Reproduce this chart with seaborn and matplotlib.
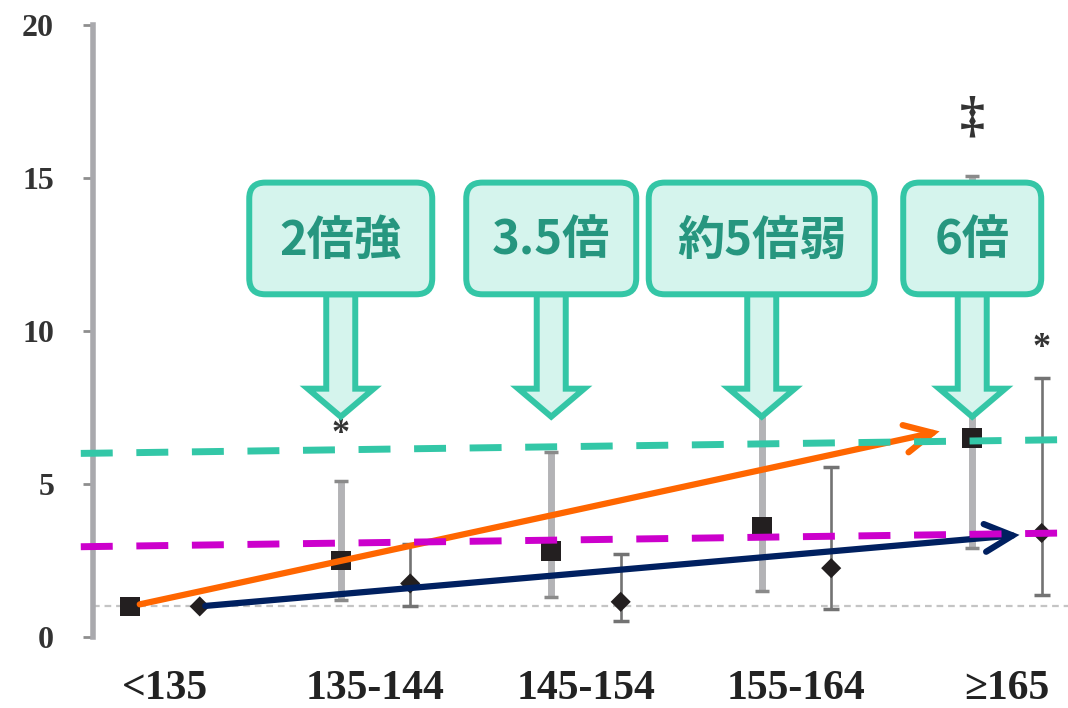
import numpy as np
import pandas as pd
import matplotlib
matplotlib.use("Agg")
import matplotlib.pyplot as plt
import seaborn as sns
from matplotlib.patches import FancyBboxPatch, Polygon

# ==============================================
# Data
# ==============================================
categories = ["<135", "135-144", "145-154", "155-164", "≥165"]

# series 1 (squares): value, lower and upper end of the bar
sq_val = [1.0, 2.5, 2.8, 3.6, 6.5]
sq_lo = [1.0, 1.2, 1.3, 1.5, 2.9]
sq_hi = [1.0, 5.1, 6.05, 7.6, 15.05]

# series 2 (diamonds)
dm_val = [1.0, 1.75, 1.15, 2.25, 3.4]
dm_lo = [1.0, 1.0, 0.52, 0.92, 1.38]
dm_hi = [1.0, 3.05, 2.7, 5.55, 8.45]

# significance marks over the bars
sq_sig = ["", "*", "", "", "‡"]
sq_sig_y = [0, 6.62, 0, 0, 16.95]
dm_sig = ["", "", "", "", "*"]
dm_sig_y = [0, 0, 0, 0, 9.42]

# dashed guide lines (left end, right end)
teal_ref = [6.0, 6.45]
magenta_ref = [2.95, 3.4]

# trend arrows: orange ends just left of the last square
orange_end = [3.68, 6.72]

# callouts (text, category they point at)
callout_text = ["2倍強", "3.5倍", "約5倍弱", "6倍"]
callout_cat = [1, 2, 3, 4]
callout_width = [183, 170, 226, 138]   # px

# ==============================================
# Figure setup
# ==============================================
sns.set_theme(style="white")
plt.rcParams["font.family"] = ["Liberation Serif", "DejaVu Serif"]

W, H = 1068, 708
fig = plt.figure(figsize=(W / 100, H / 100), dpi=100)
ax = fig.add_axes([93 / W, 71 / H, (W - 93) / W, 612 / H])

off = 0.165
xs = np.arange(len(categories))
x_sq = xs - off
x_dm = xs + off

df_sq = pd.DataFrame({"x": x_sq, "y": sq_val})
df_dm = pd.DataFrame({"x": x_dm, "y": dm_val})

# reference line at 1
ax.axhline(1, color="#c4c4c4", lw=1.6, dashes=(3, 2.2), zorder=1)

# error bars
for i in range(len(categories)):
    if sq_hi[i] > sq_lo[i]:
        eb = ax.errorbar(x_sq[i], sq_val[i],
                         yerr=[[sq_val[i] - sq_lo[i]], [sq_hi[i] - sq_val[i]]],
                         fmt="none", ecolor="#b3b3b6", elinewidth=5,
                         capsize=5, capthick=2.5, zorder=2)
        for c in eb[1]:
            c.set_markeredgecolor("#8a8a8a")
    if dm_hi[i] > dm_lo[i]:
        ax.errorbar(x_dm[i], dm_val[i],
                    yerr=[[dm_val[i] - dm_lo[i]], [dm_hi[i] - dm_val[i]]],
                    fmt="none", ecolor="#737373", elinewidth=1.9,
                    capsize=6, capthick=2.5, zorder=2)

# markers
sns.scatterplot(data=df_sq, x="x", y="y", marker="s", s=200, color="#231f20",
                edgecolor="none", ax=ax, zorder=3, legend=False)
sns.scatterplot(data=df_dm, x="x", y="y", marker="D", s=105, color="#231f20",
                edgecolor="none", ax=ax, zorder=3, legend=False)

# significance marks
for i in range(len(categories)):
    if sq_sig[i]:
        ax.text(x_sq[i], sq_sig_y[i], sq_sig[i], ha="center", va="center",
                fontsize=36 if sq_sig[i] == "‡" else 26, fontweight="bold",
                color="#333333", zorder=4)
    if dm_sig[i]:
        ax.text(x_dm[i], dm_sig_y[i], dm_sig[i], ha="center", va="center",
                fontsize=26, fontweight="bold", color="#333333", zorder=4)

ax.set_xlim(-0.342, 4.29)
ax.set_ylim(0, 20)

# trend arrows
arrow_style = "->,head_length=1.0,head_width=0.5"
ax.annotate("", xy=orange_end, xytext=(x_sq[0], sq_val[0]),
            arrowprops=dict(arrowstyle=arrow_style, color="#ff6600", lw=4.5,
                            mutation_scale=20, shrinkA=7, shrinkB=0,
                            capstyle="round", joinstyle="miter"), zorder=5)
ax.annotate("", xy=(x_dm[4], dm_val[4]), xytext=(x_dm[0], dm_val[0]),
            arrowprops=dict(arrowstyle=arrow_style, color="#002060", lw=4.5,
                            mutation_scale=20, shrinkA=4, shrinkB=16,
                            capstyle="round", joinstyle="miter"), zorder=5)

# dashed guide lines on top
x_ends = [-0.40, 4.29]
ax.plot(x_ends, teal_ref, color="#33c7a7", lw=5, dashes=(4.6, 3.4),
        clip_on=False, zorder=6)
ax.plot(x_ends, magenta_ref, color="#cc00cc", lw=5, dashes=(4.6, 3.4),
        clip_on=False, zorder=6)

# axes styling
for s in ["top", "right", "bottom"]:
    ax.spines[s].set_visible(False)
ax.spines["left"].set_color("#a9a9ad")
ax.spines["left"].set_linewidth(4)
ax.spines["left"].set_bounds(0, 20)
ax.set_yticks([0, 5, 10, 15, 20])
ax.set_xticks(xs, categories)
ax.tick_params(axis="y", length=7, width=2, color="#8e8e8e", pad=21,
               labelsize=23, labelcolor="#333333", left=True)
ax.tick_params(axis="x", length=0, pad=24, labelsize=30, labelcolor="#222222")
for lbl in ax.get_yticklabels() + ax.get_xticklabels():
    lbl.set_fontweight("bold")
ax.set_xlabel("")
ax.set_ylabel("")
ax.grid(False)

# ==============================================
# Callouts in pixel space
# ==============================================
ov = fig.add_axes([0, 0, 1, 1], zorder=10)
ov.set_xlim(0, W)
ov.set_ylim(H, 0)
ov.set_axis_off()


def to_px(x, y):
    dx, dy = ax.transData.transform((x, y))
    return dx, H - dy


edge = "#34c6a6"
fill = "#d5f4ed"
for txt, cat, bw in zip(callout_text, callout_cat, callout_width):
    cx, tip = to_px(x_sq[cat], 7.2)
    _, top = to_px(x_sq[cat], 14.85)
    _, bot = to_px(x_sq[cat], 11.2)
    hb = tip - 28
    pts = [(cx - 14.5, bot), (cx - 14.5, hb), (cx - 33, hb), (cx, tip),
           (cx + 33, hb), (cx + 14.5, hb), (cx + 14.5, bot)]
    ov.add_patch(Polygon(pts, closed=True, facecolor=fill, edgecolor=edge,
                         lw=4.3, joinstyle="miter", zorder=1))
    ov.add_patch(FancyBboxPatch((cx - bw / 2, top), bw, bot - top,
                                boxstyle="round,pad=0,rounding_size=16",
                                facecolor=fill, edgecolor=edge, lw=4.3, zorder=2))
    ov.text(cx, (top + bot) / 2 + 2, txt, ha="center", va="center",
            fontsize=34, fontweight="bold", color="#26967f",
            family=["Noto Sans CJK JP", "DejaVu Sans"], zorder=3)

fig.savefig("out.png", dpi=100)
